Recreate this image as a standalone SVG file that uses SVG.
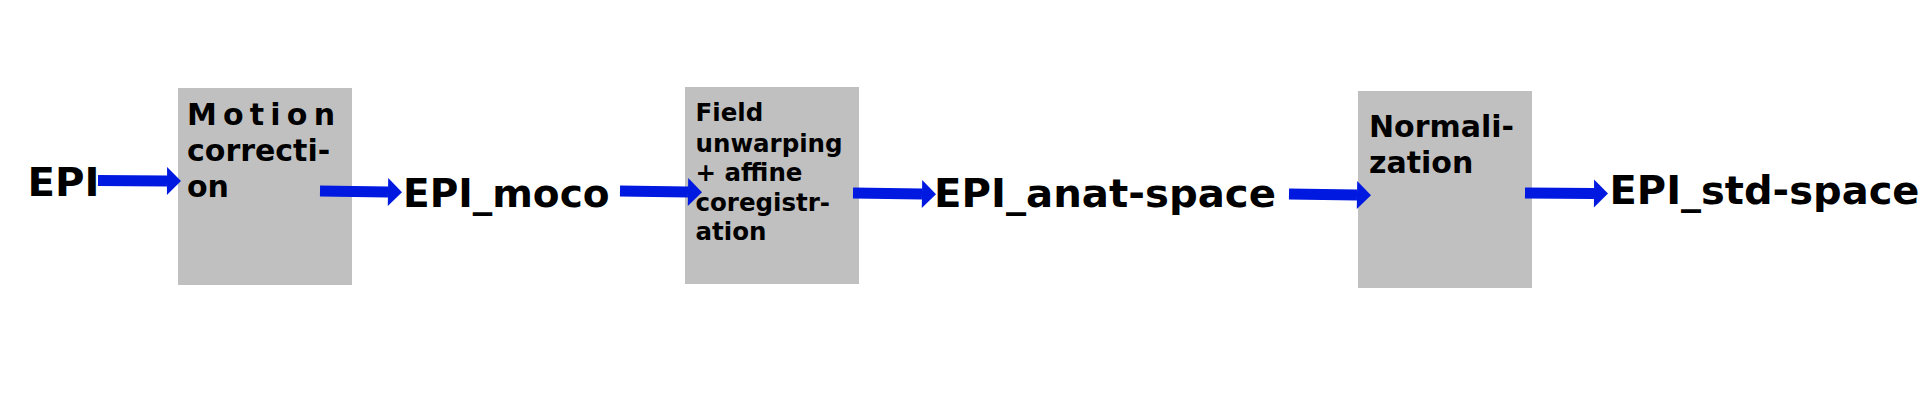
<svg xmlns="http://www.w3.org/2000/svg" width="1920" height="416" viewBox="0 0 1920 416">
  <style>
    .box { fill: #c0c0c0; }
    .big { font-family: "DejaVu Sans", "Liberation Sans", sans-serif; font-weight: bold; font-size: 39px; fill: #000; }
    .lbl { font-family: "DejaVu Sans", "Liberation Sans", sans-serif; font-weight: bold; font-size: 30px; fill: #000; }
    .lbl2 { font-family: "DejaVu Sans", "Liberation Sans", sans-serif; font-weight: bold; font-size: 24.5px; fill: #000; }
    .conn { stroke: #0019e0; stroke-width: 11; fill: none; marker-end: url(#head); }
  </style>
  <defs>
    <marker id="head" markerUnits="userSpaceOnUse" markerWidth="14" markerHeight="28" refX="0" refY="14" orient="auto" overflow="visible">
      <path d="M0,0 L14,14 L0,28 Z" fill="#0019e0"/>
    </marker>
  </defs>
  <rect width="1920" height="416" fill="#ffffff"/>

  <g id="node-epi">
    <text class="big" x="27.5" y="196" textLength="72" lengthAdjust="spacingAndGlyphs">EPI</text>
  </g>
  <g id="node-motion">
    <rect class="box" x="178" y="88" width="174" height="197"/>
    <text class="lbl" x="187" y="125" textLength="148" lengthAdjust="spacing">Motion</text>
    <text class="lbl" x="187" y="161">correcti-</text>
    <text class="lbl" x="187" y="197">on</text>
  </g>
  <g id="node-epi-moco">
    <text class="big" x="403" y="207">EPI_moco</text>
  </g>
  <g id="node-field">
    <rect class="box" x="685" y="87" width="174" height="197"/>
    <text class="lbl2" x="695.5" y="121">Field</text>
    <text class="lbl2" x="695.5" y="151.5">unwarping</text>
    <text class="lbl2" x="695.5" y="181">+ affine</text>
    <text class="lbl2" x="695.5" y="210.5">coregistr-</text>
    <text class="lbl2" x="695.5" y="239.5">ation</text>
  </g>
  <g id="node-epi-anat">
    <text class="big" x="934" y="207" textLength="342" lengthAdjust="spacingAndGlyphs">EPI_anat-space</text>
  </g>
  <g id="node-normalization">
    <rect class="box" x="1358" y="91" width="174" height="197"/>
    <text class="lbl" x="1369" y="137">Normali-</text>
    <text class="lbl" x="1369" y="173">zation</text>
  </g>
  <g id="node-epi-std">
    <text class="big" x="1609.5" y="203.5" textLength="310" lengthAdjust="spacingAndGlyphs">EPI_std-space</text>
  </g>

  <g id="connectors">
    <line class="conn" x1="98" y1="180.5" x2="167" y2="181"/>
    <line class="conn" x1="320" y1="191" x2="388" y2="192"/>
    <line class="conn" x1="620" y1="191" x2="688" y2="192"/>
    <line class="conn" x1="853" y1="193" x2="922" y2="194"/>
    <line class="conn" x1="1289" y1="194" x2="1357" y2="195"/>
    <line class="conn" x1="1525" y1="193" x2="1594" y2="193.5"/>
  </g>
</svg>
